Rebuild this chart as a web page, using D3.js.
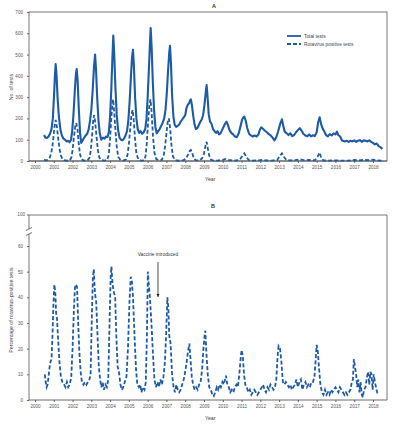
<!DOCTYPE html>
<html><head><meta charset="utf-8">
<script src="https://cdn.jsdelivr.net/npm/d3@7"></script>
<style>
body{margin:0;background:#fff;}
text{font-family:"Liberation Sans",Arial,sans-serif;}
</style></head>
<body><svg id="c" width="399" height="424"></svg>
<script>
// ---------- DATA ----------
const years = d3.range(2000, 2019);
const yTicksA = [0,100,200,300,400,500,600,700];
const yTicksB = [0,10,20,30,40,50,60];
const seriesNames = ["Total tests","Rotavirus positive tests"];

// Panel A: total tests, [decimal year, count]
const totalTests = [[2000.48,122],[2000.55,110],[2000.63,108],[2000.72,115],[2000.8,128],[2000.88,150],[2000.95,200],[2001.01,300],[2001.06,400],[2001.1,455],[2001.15,400],[2001.2,300],[2001.27,210],[2001.35,150],[2001.43,120],[2001.52,105],[2001.6,100],[2001.68,92],[2001.76,95],[2001.84,88],[2001.92,100],[2001.98,140],[2002.05,220],[2002.12,330],[2002.18,410],[2002.22,432],[2002.27,380],[2002.33,250],[2002.4,130],[2002.46,85],[2002.53,95],[2002.62,110],[2002.7,120],[2002.78,128],[2002.86,150],[2002.93,190],[2003.0,240],[2003.07,330],[2003.14,440],[2003.2,500],[2003.25,430],[2003.31,300],[2003.38,190],[2003.45,130],[2003.53,100],[2003.62,110],[2003.7,105],[2003.78,115],[2003.86,112],[2003.93,135],[2004.0,210],[2004.06,330],[2004.12,480],[2004.17,589],[2004.22,500],[2004.28,350],[2004.35,220],[2004.42,150],[2004.5,110],[2004.58,100],[2004.66,97],[2004.74,105],[2004.82,120],[2004.9,140],[2004.97,190],[2005.04,280],[2005.11,400],[2005.17,490],[2005.22,523],[2005.27,440],[2005.33,300],[2005.4,200],[2005.47,150],[2005.55,132],[2005.63,140],[2005.71,128],[2005.79,135],[2005.87,150],[2005.94,200],[2006.0,300],[2006.06,420],[2006.12,550],[2006.16,625],[2006.21,540],[2006.27,380],[2006.34,240],[2006.41,160],[2006.48,130],[2006.56,140],[2006.64,150],[2006.72,165],[2006.8,180],[2006.88,200],[2006.95,240],[2007.02,320],[2007.09,430],[2007.15,510],[2007.19,541],[2007.24,460],[2007.3,310],[2007.37,210],[2007.44,170],[2007.52,160],[2007.6,165],[2007.68,172],[2007.76,185],[2007.84,195],[2007.92,205],[2008.0,215],[2008.07,250],[2008.14,265],[2008.2,270],[2008.26,285],[2008.3,290],[2008.36,260],[2008.43,210],[2008.5,170],[2008.57,150],[2008.65,155],[2008.73,170],[2008.81,185],[2008.88,195],[2008.95,215],[2009.02,260],[2009.09,320],[2009.14,357],[2009.19,300],[2009.25,220],[2009.32,185],[2009.4,175],[2009.48,150],[2009.56,140],[2009.64,132],[2009.72,140],[2009.8,125],[2009.88,130],[2009.96,145],[2010.04,160],[2010.12,175],[2010.2,185],[2010.28,168],[2010.36,145],[2010.45,132],[2010.55,125],[2010.65,115],[2010.75,112],[2010.85,130],[2010.95,165],[2011.03,195],[2011.1,205],[2011.15,208],[2011.22,190],[2011.3,155],[2011.4,128],[2011.5,120],[2011.6,115],[2011.7,120],[2011.8,115],[2011.9,125],[2011.98,148],[2012.05,158],[2012.15,150],[2012.25,142],[2012.35,135],[2012.45,126],[2012.55,120],[2012.65,110],[2012.75,97],[2012.85,112],[2012.95,140],[2013.05,172],[2013.15,196],[2013.22,165],[2013.3,138],[2013.4,130],[2013.5,122],[2013.6,130],[2013.7,117],[2013.8,122],[2013.9,135],[2014.0,145],[2014.1,154],[2014.2,142],[2014.3,127],[2014.4,120],[2014.5,116],[2014.6,125],[2014.7,116],[2014.8,121],[2014.9,117],[2015.0,135],[2015.08,182],[2015.16,205],[2015.24,172],[2015.32,152],[2015.4,140],[2015.5,122],[2015.6,116],[2015.7,126],[2015.8,120],[2015.9,130],[2016.0,125],[2016.08,138],[2016.15,122],[2016.25,115],[2016.35,96],[2016.5,92],[2016.6,95],[2016.7,90],[2016.8,95],[2016.9,92],[2017.0,97],[2017.1,90],[2017.2,95],[2017.3,98],[2017.4,90],[2017.5,97],[2017.6,95],[2017.7,92],[2017.8,97],[2017.9,90],[2018.0,85],[2018.1,78],[2018.2,82],[2018.3,70],[2018.4,65],[2018.5,57]];

// Panel A: rotavirus-positive tests, [decimal year, count]
const positiveTests = [[2000.48,5],[2000.6,3],[2000.7,6],[2000.78,15],[2000.86,35],[2000.93,70],[2000.99,120],[2001.05,170],[2001.1,193],[2001.16,165],[2001.23,110],[2001.3,60],[2001.38,25],[2001.46,10],[2001.55,4],[2001.7,2],[2001.85,4],[2001.93,15],[2002.0,50],[2002.07,110],[2002.14,160],[2002.2,178],[2002.26,150],[2002.33,80],[2002.4,30],[2002.48,8],[2002.6,2],[2002.8,3],[2002.9,15],[2002.97,50],[2003.04,120],[2003.1,190],[2003.15,216],[2003.21,180],[2003.28,110],[2003.35,50],[2003.43,15],[2003.55,4],[2003.7,2],[2003.85,6],[2003.93,30],[2004.0,110],[2004.07,210],[2004.13,275],[2004.16,290],[2004.21,240],[2004.28,150],[2004.35,70],[2004.43,20],[2004.55,5],[2004.7,2],[2004.85,8],[2004.93,30],[2005.0,80],[2005.07,150],[2005.14,220],[2005.2,240],[2005.26,190],[2005.33,100],[2005.4,35],[2005.5,8],[2005.65,2],[2005.8,3],[2005.88,20],[2005.95,80],[2006.02,180],[2006.09,260],[2006.15,290],[2006.21,230],[2006.28,120],[2006.36,40],[2006.45,10],[2006.6,3],[2006.75,5],[2006.85,25],[2006.93,70],[2007.0,130],[2007.07,185],[2007.13,200],[2007.2,150],[2007.27,70],[2007.35,20],[2007.45,5],[2007.6,2],[2007.9,3],[2008.05,12],[2008.15,30],[2008.24,48],[2008.3,52],[2008.37,38],[2008.45,15],[2008.55,4],[2008.75,3],[2008.9,12],[2009.0,35],[2009.08,72],[2009.14,90],[2009.2,60],[2009.28,25],[2009.38,6],[2009.5,2],[2009.7,2],[2010.0,5],[2010.15,10],[2010.3,5],[2010.6,2],[2010.9,5],[2011.05,25],[2011.15,36],[2011.25,20],[2011.38,5],[2011.6,2],[2011.9,3],[2012.1,5],[2012.3,3],[2012.6,2],[2012.9,5],[2013.05,25],[2013.15,36],[2013.25,20],[2013.38,5],[2013.6,3],[2013.9,5],[2014.1,8],[2014.3,4],[2014.6,5],[2014.9,3],[2015.05,20],[2015.15,40],[2015.25,15],[2015.35,3],[2015.6,2],[2016.0,3],[2016.3,2],[2016.7,2],[2017.0,5],[2017.2,3],[2017.5,5],[2017.8,4],[2018.0,6],[2018.2,3],[2018.5,2]];

// Panel B: percentage of rotavirus-positive tests, [decimal year, %]
const pctPositive = [[2000.52,10],[2000.57,7],[2000.62,5],[2000.67,6],[2000.72,9],[2000.78,13],[2000.83,15],[2000.88,16],[2000.93,25],[2000.98,37],[2001.03,45],[2001.08,42],[2001.13,33],[2001.17,32],[2001.22,25],[2001.3,15],[2001.38,9],[2001.46,7],[2001.55,6],[2001.62,5],[2001.7,7],[2001.77,5],[2001.85,6],[2001.93,9],[2002.0,20],[2002.07,35],[2002.13,44],[2002.18,45],[2002.24,44],[2002.3,30],[2002.36,19],[2002.43,11],[2002.5,7],[2002.58,6],[2002.66,7],[2002.74,6],[2002.82,7],[2002.9,8],[2002.96,10],[2003.02,30],[2003.08,47],[2003.13,51],[2003.19,42],[2003.26,38],[2003.33,25],[2003.4,13],[2003.47,8],[2003.53,5],[2003.6,7],[2003.67,4],[2003.75,6],[2003.83,5],[2003.9,8],[2003.97,30],[2004.03,48],[2004.07,52],[2004.13,45],[2004.2,42],[2004.27,40],[2004.33,25],[2004.4,13],[2004.47,11],[2004.55,6],[2004.62,4],[2004.7,5],[2004.78,7],[2004.87,9],[2004.95,20],[2005.03,38],[2005.1,48],[2005.15,47],[2005.22,40],[2005.3,25],[2005.38,12],[2005.45,6],[2005.53,5],[2005.6,6],[2005.67,3],[2005.75,5],[2005.83,4],[2005.9,7],[2005.96,25],[2006.01,50],[2006.06,45],[2006.12,40],[2006.2,30],[2006.28,18],[2006.36,8],[2006.44,5],[2006.52,7],[2006.6,5],[2006.68,8],[2006.76,6],[2006.84,9],[2006.92,15],[2006.98,25],[2007.05,40],[2007.1,36],[2007.15,25],[2007.22,22],[2007.3,10],[2007.38,5],[2007.45,3],[2007.53,6],[2007.6,4],[2007.68,3],[2007.76,4],[2007.84,6],[2007.92,8],[2008.0,11],[2008.08,15],[2008.15,19],[2008.22,22],[2008.28,16],[2008.35,9],[2008.42,6],[2008.5,4],[2008.58,5],[2008.66,4],[2008.74,6],[2008.82,7],[2008.9,12],[2008.97,20],[2009.03,25],[2009.07,27],[2009.13,18],[2009.2,10],[2009.28,5],[2009.36,4],[2009.45,2],[2009.52,1.5],[2009.6,3],[2009.68,5],[2009.75,4],[2009.83,6],[2009.9,5],[2009.98,7],[2010.05,6],[2010.12,8],[2010.17,9.5],[2010.24,6],[2010.32,5],[2010.4,3],[2010.48,4],[2010.56,3],[2010.65,5],[2010.73,6],[2010.8,5],[2010.88,10],[2010.95,16],[2011.0,19.5],[2011.07,17],[2011.13,10],[2011.2,6],[2011.28,5],[2011.36,3],[2011.44,4],[2011.52,2],[2011.6,3],[2011.68,4],[2011.76,3],[2011.84,2],[2011.92,3],[2012.0,4],[2012.08,5],[2012.15,6],[2012.22,4],[2012.3,3],[2012.38,5],[2012.46,4],[2012.54,6],[2012.62,5],[2012.7,4],[2012.78,5],[2012.85,8],[2012.92,17],[2012.97,21],[2013.05,20],[2013.12,15],[2013.2,7],[2013.28,6],[2013.36,7],[2013.44,6],[2013.52,5],[2013.6,6],[2013.68,4],[2013.76,5],[2013.84,6],[2013.92,8],[2014.0,5],[2014.08,7],[2014.16,8],[2014.24,4],[2014.32,6],[2014.4,7],[2014.48,5],[2014.56,6],[2014.64,5],[2014.72,7],[2014.8,7],[2014.88,9],[2014.94,15],[2015.0,21.5],[2015.06,19],[2015.13,12],[2015.2,6],[2015.28,3],[2015.36,2],[2015.44,4],[2015.52,2],[2015.6,3],[2015.68,2],[2015.76,4],[2015.84,3],[2015.92,4],[2016.0,5],[2016.08,4],[2016.16,3],[2016.24,5],[2016.32,4],[2016.4,3],[2016.48,2],[2016.56,3],[2016.64,2],[2016.72,3],[2016.8,4],[2016.87,7],[2016.93,8],[2016.98,16],[2017.04,13],[2017.1,10],[2017.16,5],[2017.22,8],[2017.28,3],[2017.34,7],[2017.4,2],[2017.46,1],[2017.52,4],[2017.6,5],[2017.68,9],[2017.74,11],[2017.8,6],[2017.86,11],[2017.92,10],[2017.98,4],[2018.04,10],[2018.1,7],[2018.16,5],[2018.22,3],[2018.27,2]];

// ---------- DRAW ----------
const blue = "#1d5ba6";
const axisCol = "#666";
const svg = d3.select("#c");
const L = 29, R = 387;
const x = d3.scaleLinear().domain([2000, 2018]).range([35, 373]);

function xAxis(g, yPos) {
  const ax = d3.axisBottom(x).tickValues(years).tickFormat(d3.format("d")).tickSize(2).tickPadding(3).tickSizeOuter(0);
  const a = g.append("g").attr("transform", `translate(0,${yPos})`).call(ax);
  a.select(".domain").remove();
  a.selectAll("line").attr("stroke", axisCol);
  a.selectAll("text").attr("font-size", 4.6).attr("fill", "#555");
  g.append("line").attr("x1", L).attr("x2", R).attr("y1", yPos).attr("y2", yPos).attr("stroke", "#444").attr("stroke-width", 0.8);
}

// ----- Panel A -----
const gA = svg.append("g");
const yA = d3.scaleLinear().domain([0, 700]).range([161, 12]);
gA.append("rect").attr("x", L).attr("y", 12).attr("width", R - L).attr("height", 149)
  .attr("fill", "none").attr("stroke", "#555").attr("stroke-width", 0.8);
const ayA = gA.append("g").attr("transform", `translate(${L},0)`)
  .call(d3.axisLeft(yA).tickValues(yTicksA).tickSize(2).tickPadding(4).tickSizeOuter(0));
ayA.select(".domain").remove();
ayA.selectAll("line").attr("stroke", axisCol);
ayA.selectAll("text").attr("font-size", 4.6).attr("fill", "#555");
xAxis(gA, 161);

const lineA = d3.line().x(d => x(d[0])).y(d => yA(d[1]));
gA.append("path").attr("d", lineA(totalTests)).attr("fill", "none")
  .attr("stroke", blue).attr("stroke-width", 2.1).attr("stroke-linejoin", "round");
gA.append("path").attr("d", lineA(positiveTests)).attr("fill", "none")
  .attr("stroke", blue).attr("stroke-width", 1.8).attr("stroke-dasharray", "4,2.2");

gA.append("text").attr("x", 212).attr("y", 8).attr("font-size", 5.5).attr("font-weight", "bold").attr("fill", "#333").text("A");
gA.append("text").attr("x", 205).attr("y", 181).attr("font-size", 5.2).attr("fill", "#444").text("Year");
gA.append("text").attr("transform", "translate(13,87) rotate(-90)").attr("text-anchor", "middle")
  .attr("font-size", 5.2).attr("fill", "#444").text("No. of tests");

// legend
const leg = gA.append("g");
seriesNames.forEach((n, i) => {
  const yy = 36 + i * 8;
  leg.append("line").attr("x1", 287).attr("x2", 301).attr("y1", yy).attr("y2", yy)
    .attr("stroke", blue).attr("stroke-width", 1.8).attr("stroke-dasharray", i ? "4,2" : null);
  leg.append("text").attr("x", 304).attr("y", yy + 1.7).attr("font-size", 4.8).attr("fill", "#444").text(n);
});

// ----- Panel B -----
const gB = svg.append("g");
const yB = d3.scaleLinear().domain([0, 60]).range([400, 246]);
const yTop = 215;
gB.append("line").attr("x1", L).attr("x2", R).attr("y1", yTop).attr("y2", yTop).attr("stroke", "#555").attr("stroke-width", 0.8);
gB.append("line").attr("x1", R).attr("x2", R).attr("y1", yTop).attr("y2", 400).attr("stroke", "#555").attr("stroke-width", 0.8);
gB.append("line").attr("x1", L).attr("x2", L).attr("y1", yTop).attr("y2", 229).attr("stroke", "#555").attr("stroke-width", 0.8);
gB.append("line").attr("x1", L).attr("x2", L).attr("y1", 234).attr("y2", 400).attr("stroke", "#555").attr("stroke-width", 0.8);
[229, 234].forEach(v => gB.append("line").attr("x1", L - 3).attr("x2", L + 3).attr("y1", v + 1.5).attr("y2", v - 1.5)
  .attr("stroke", "#555").attr("stroke-width", 0.8));
const ayB = gB.append("g").attr("transform", `translate(${L},0)`)
  .call(d3.axisLeft(yB).tickValues(yTicksB).tickSize(2).tickPadding(4).tickSizeOuter(0));
ayB.select(".domain").remove();
ayB.selectAll("line").attr("stroke", axisCol);
ayB.selectAll("text").attr("font-size", 4.6).attr("fill", "#555");
gB.append("line").attr("x1", L - 2).attr("x2", L).attr("y1", yTop).attr("y2", yTop).attr("stroke", axisCol);
gB.append("text").attr("x", L - 4).attr("y", yTop).attr("dy", "0.32em").attr("text-anchor", "end")
  .attr("font-size", 4.6).attr("fill", "#555").text("100");
xAxis(gB, 400);

gB.append("path").attr("d", d3.line().x(d => x(d[0])).y(d => yB(d[1]))(pctPositive))
  .attr("fill", "none").attr("stroke", blue).attr("stroke-width", 1.8).attr("stroke-dasharray", "4,2.2");

gB.append("text").attr("x", 211).attr("y", 208).attr("font-size", 5.5).attr("font-weight", "bold").attr("fill", "#333").text("B");
gB.append("text").attr("x", 205).attr("y", 420).attr("font-size", 5.2).attr("fill", "#444").text("Year");
gB.append("text").attr("transform", "translate(13,310) rotate(-90)").attr("text-anchor", "middle")
  .attr("font-size", 5.2).attr("fill", "#444").text("Percentage of rotavirus-positive tests");

// annotation
const vx = x(2006.55);
gB.append("text").attr("x", vx).attr("y", 256).attr("text-anchor", "middle").attr("font-size", 4.8).attr("fill", "#333").text("Vaccine introduced");
svg.append("defs").append("marker").attr("id", "ah").attr("viewBox", "0 0 10 10").attr("refX", 10).attr("refY", 5)
  .attr("markerWidth", 4).attr("markerHeight", 4).attr("orient", "auto")
  .append("path").attr("d", "M0,0L10,5L0,10z").attr("fill", "#222");
gB.append("line").attr("x1", vx).attr("x2", vx).attr("y1", 262).attr("y2", 297)
  .attr("stroke", "#222").attr("stroke-width", 0.8).attr("marker-end", "url(#ah)");
</script></body></html>
